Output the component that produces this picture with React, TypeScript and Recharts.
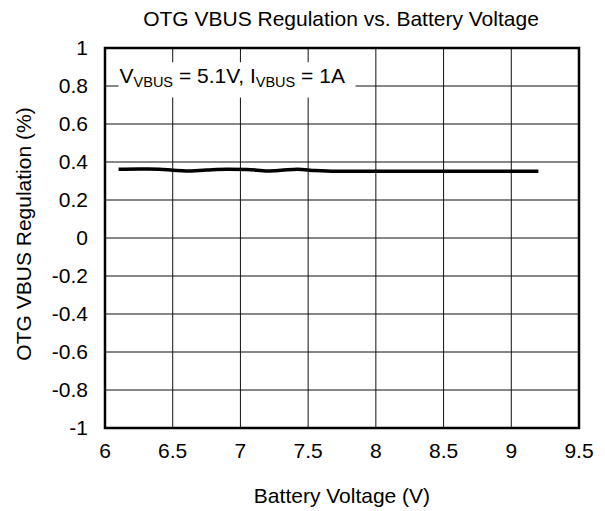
import React from "react";
import { LineChart, Line, XAxis, YAxis, CartesianGrid, ReferenceArea } from "recharts";

const batteryVoltage = [6.1, 6.25, 6.4, 6.5, 6.6, 6.75, 6.9, 7.05, 7.2, 7.3, 7.42, 7.55, 7.7, 8.0, 8.5, 9.0, 9.2];
const regulation = [0.362, 0.363, 0.362, 0.357, 0.353, 0.358, 0.362, 0.361, 0.353, 0.356, 0.362, 0.355, 0.351, 0.351, 0.351, 0.351, 0.351];
const xTicks = [6, 6.5, 7, 7.5, 8, 8.5, 9, 9.5];
const yTicks = [-1, -0.8, -0.6, -0.4, -0.2, 0, 0.2, 0.4, 0.6, 0.8, 1];

const data = batteryVoltage.map((v, i) => ({ v, r: regulation[i] }));

const FONT = "Arial, 'Liberation Sans', sans-serif";
const FS = 21;

const AnnotationLabel = (props: any) => {
  const vb = props.viewBox || {};
  const x = vb.x + 1;
  const y = vb.y + 21;
  return (
    <text x={x} y={y} fontFamily={FONT} fontSize={FS} fill="#000">
      <tspan>V</tspan>
      <tspan fontSize={14.5} dy={4}>VBUS</tspan>
      <tspan dy={-4}> = 5.1V, I</tspan>
      <tspan fontSize={14.5} dy={4}>VBUS</tspan>
      <tspan dy={-4}> = 1A</tspan>
    </text>
  );
};

export default function App() {
  return (
    <div style={{ position: "absolute", left: 0, top: 0, width: 605, height: 511, background: "#fff" }}>
      <LineChart
        width={605}
        height={511}
        data={data}
        margin={{ top: 48, right: 26, bottom: 53, left: 0 }}
      >
        <text x={341} y={26} textAnchor="middle" fontFamily={FONT} fontSize={FS} fill="#000">
          OTG VBUS Regulation vs. Battery Voltage
        </text>
        <text x={342} y={503} textAnchor="middle" fontFamily={FONT} fontSize={FS} fill="#000">
          Battery Voltage (V)
        </text>
        <text
          x={0}
          y={0}
          transform="translate(31,234) rotate(-90)"
          textAnchor="middle"
          fontFamily={FONT}
          fontSize={FS}
          fill="#000"
        >
          OTG VBUS Regulation (%)
        </text>
        <CartesianGrid stroke="#111" strokeWidth={1} horizontalValues={yTicks} verticalValues={xTicks} />
        <XAxis
          dataKey="v"
          type="number"
          domain={[6, 9.5]}
          ticks={xTicks}
          height={30}
          tickSize={0}
          tickMargin={15}
          axisLine={false}
          tickLine={false}
          tick={{ fill: "#000", fontSize: FS, fontFamily: FONT }}
          allowDataOverflow
        />
        <YAxis
          type="number"
          domain={[-1, 1]}
          ticks={yTicks}
          width={105}
          tickSize={0}
          tickMargin={17}
          axisLine={false}
          tickLine={false}
          tick={{ fill: "#000", fontSize: FS, fontFamily: FONT }}
          allowDataOverflow
        />
        <ReferenceArea
          x1={6.1}
          x2={7.85}
          y1={0.74}
          y2={0.925}
          fill="#fff"
          fillOpacity={1}
          stroke="none"
          label={<AnnotationLabel />}
        />
        <ReferenceArea x1={6} x2={9.5} y1={-1} y2={1} fill="none" stroke="#000" strokeWidth={2.5} />
        <Line
          dataKey="r"
          type="monotone"
          stroke="#000"
          strokeWidth={3.5}
          dot={false}
          isAnimationActive={false}
        />
      </LineChart>
    </div>
  );
}
